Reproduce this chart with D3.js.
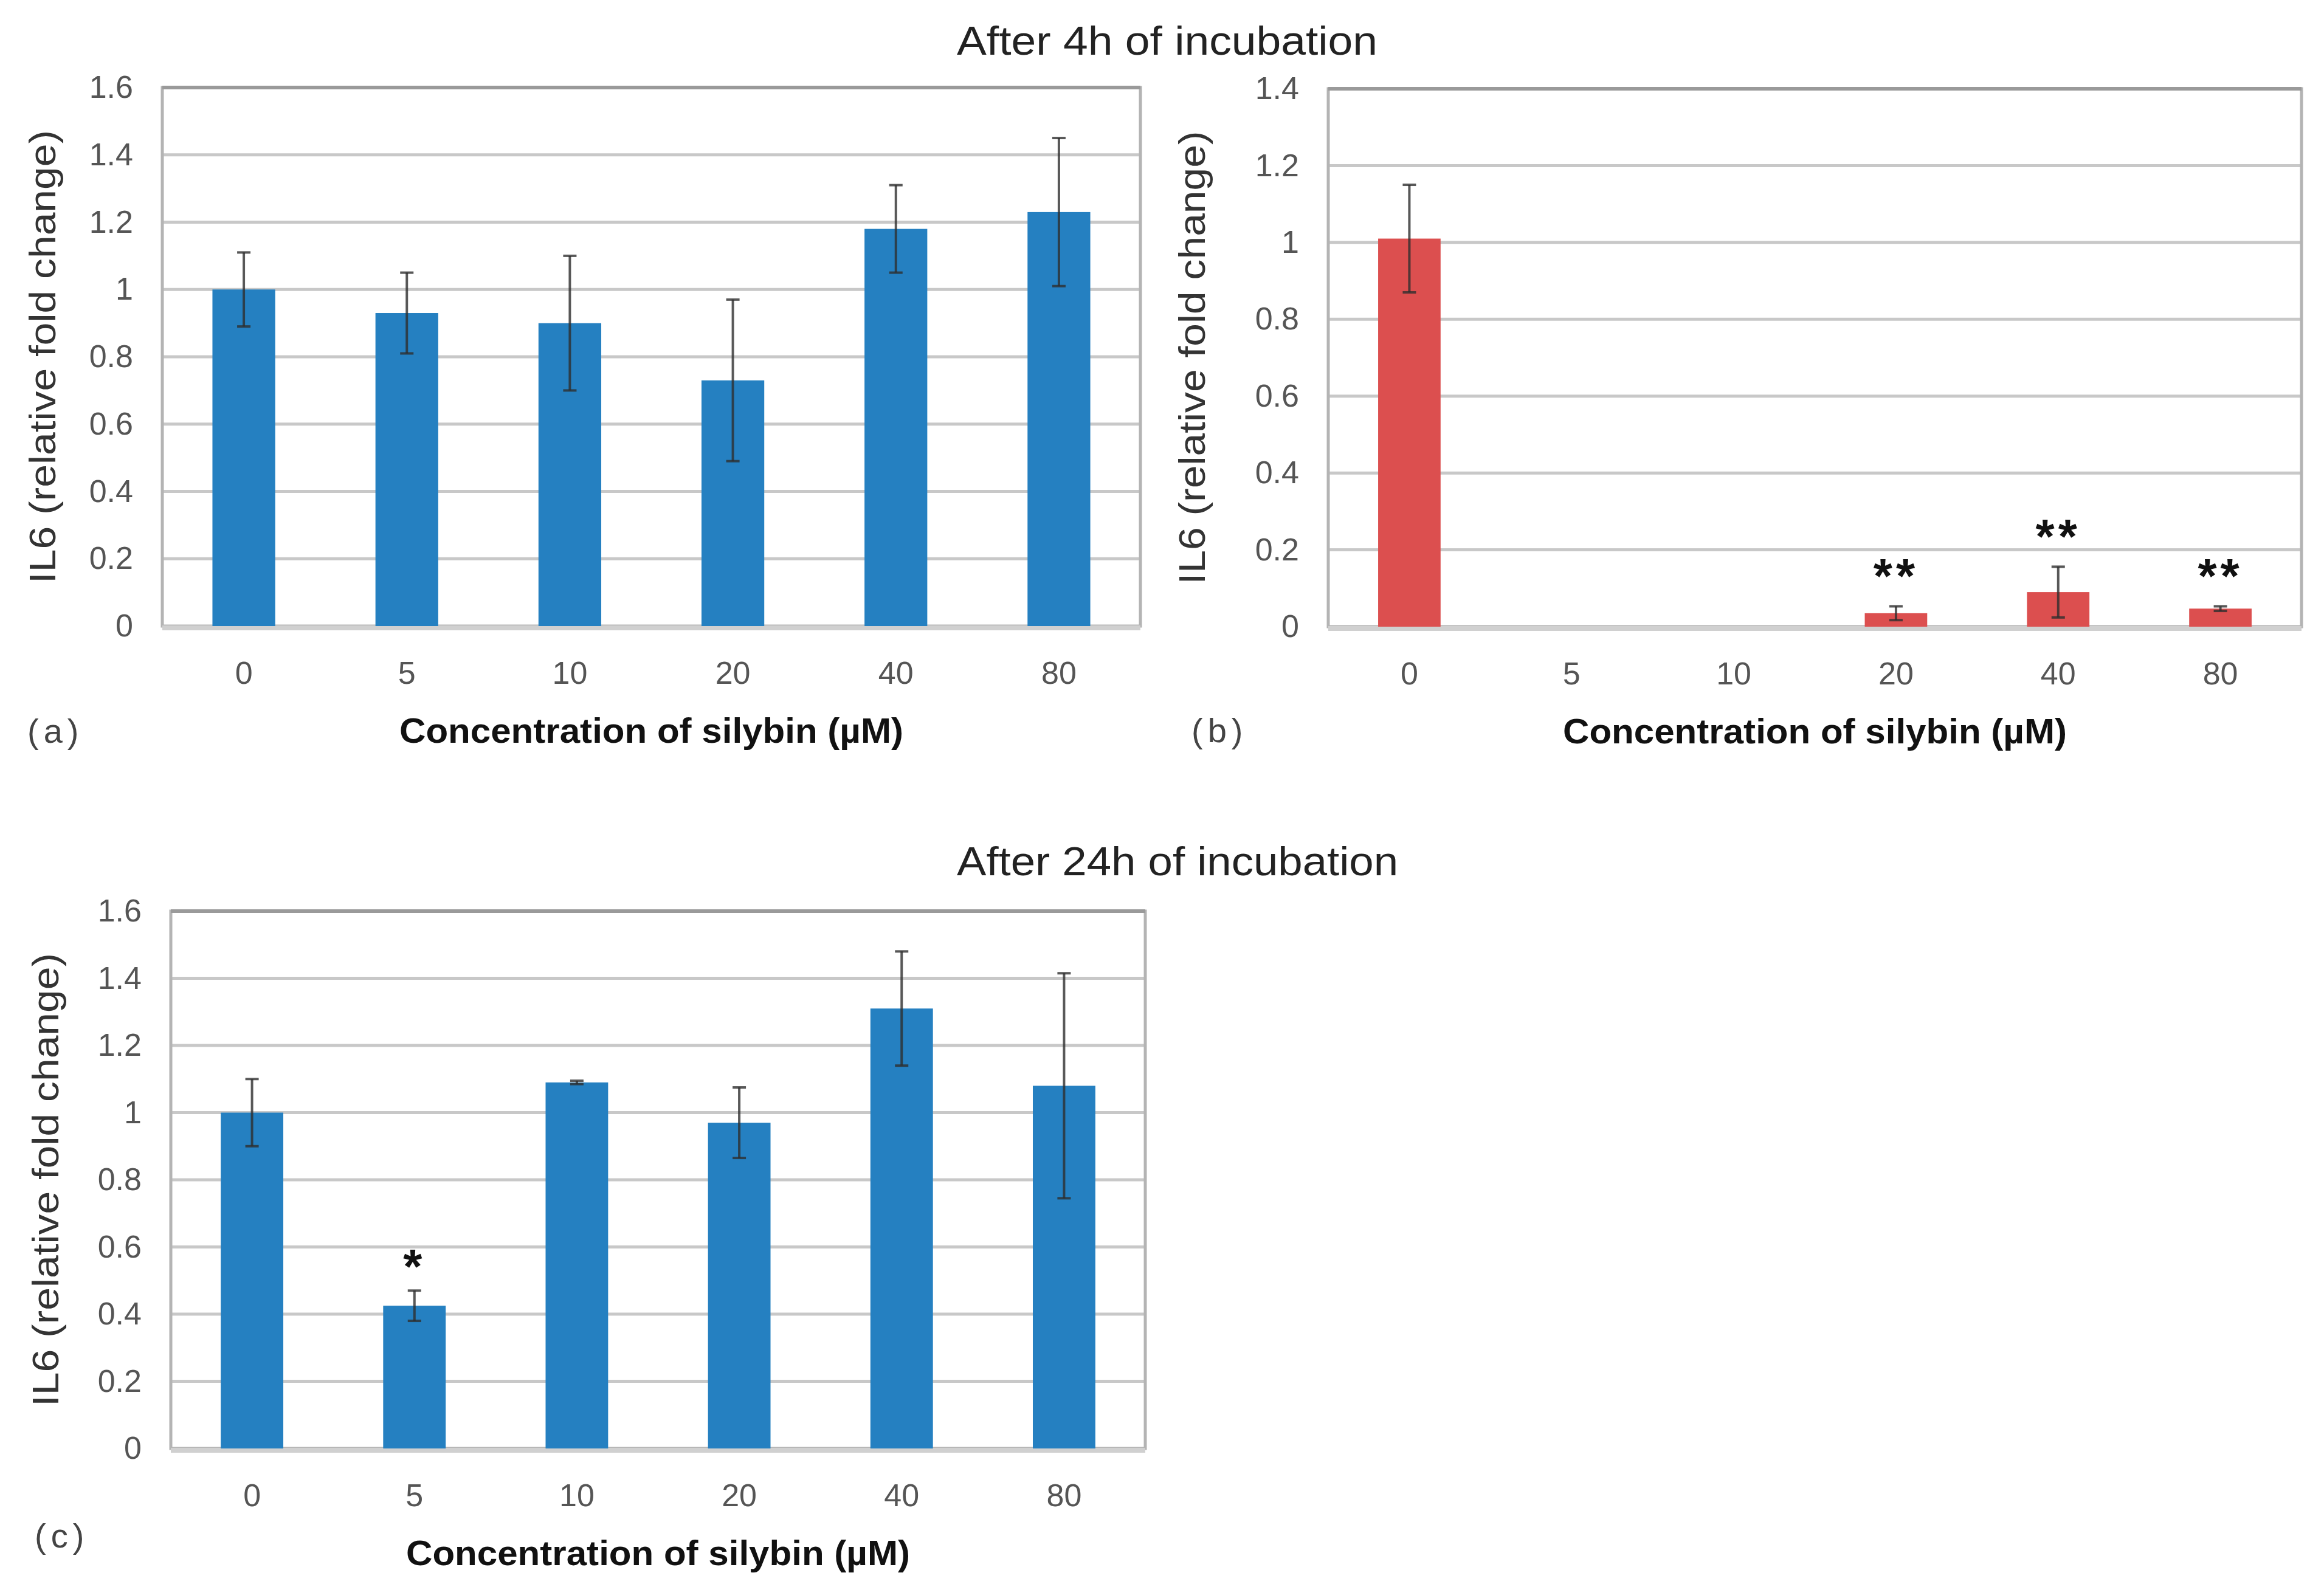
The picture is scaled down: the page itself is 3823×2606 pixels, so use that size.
<!DOCTYPE html>
<html>
<head>
<meta charset="utf-8">
<script src="https://cdn.jsdelivr.net/npm/d3@7/dist/d3.min.js"></script>
<style>
  body { margin: 0; background: #fff; }
  text { font-family: "Liberation Sans", Arial, sans-serif; }
</style>
</head>
<body>
<svg id="fig" width="3823" height="2606"></svg>
<script>
// silybin concentrations (µM)
var categories = ["0", "5", "10", "20", "40", "80"];

// (a) 4h, blue
var il6_4h_a  = [1.00, 0.93, 0.90, 0.73, 1.18, 1.23];
var err_4h_a  = [0.11, 0.12, 0.20, 0.24, 0.13, 0.22];

// (b) 4h, red
var il6_4h_b  = [1.01, 0, 0, 0.035, 0.09, 0.047];
var err_4h_b  = [0.14, 0, 0, 0.018, 0.066, 0.006];
var sig_4h_b  = ["", "", "", "**", "**", "**"];

// (c) 24h, blue
var il6_24h_c = [1.00, 0.425, 1.09, 0.97, 1.31, 1.08];
var err_24h_c = [0.10, 0.045, 0.005, 0.105, 0.17, 0.335];
var sig_24h_c = ["", "*", "", "", "", ""];

var ticks16 = [0, 0.2, 0.4, 0.6, 0.8, 1, 1.2, 1.4, 1.6];
var ticks14 = [0, 0.2, 0.4, 0.6, 0.8, 1, 1.2, 1.4];

var titles = ["After 4h of incubation", "After 24h of incubation"];
var xTitle = "Concentration of silybin (\u00b5M)";
var yTitle = "IL6 (relative fold change)";

var svg = d3.select("#fig");

function barPanel(p) {
  var x = d3.scaleBand().domain(categories).range([p.left, p.right]);
  var y = d3.scaleLinear().domain([0, d3.max(p.ticks)]).range([p.bottom, p.top]);
  var bw = x.bandwidth() * 0.385;

  var rows = categories.map(function(c, i) {
    return {c: c, v: p.values[i], e: p.errors[i], s: p.sig ? p.sig[i] : ""};
  });

  var g = svg.append("g");

  // gridlines
  g.selectAll(".grid")
      .data(p.ticks.slice(1, -1))
    .enter().append("line")
      .attr("x1", p.left).attr("x2", p.right)
      .attr("y1", function(d) { return y(d); })
      .attr("y2", function(d) { return y(d); })
      .attr("stroke", "#c8c8c8")
      .attr("stroke-width", 5);

  // frame
  g.append("rect")
      .attr("x", p.left).attr("y", p.top)
      .attr("width", p.right - p.left).attr("height", p.bottom - p.top)
      .attr("fill", "none")
      .attr("stroke", "#b4b4b4")
      .attr("stroke-width", 5);
  g.append("line")
      .attr("x1", p.left).attr("x2", p.right)
      .attr("y1", p.top).attr("y2", p.top)
      .attr("stroke", "#9a9a9a")
      .attr("stroke-width", 6);
  g.append("line")
      .attr("x1", p.left).attr("x2", p.right)
      .attr("y1", y(0) + 3).attr("y2", y(0) + 3)
      .attr("stroke", "#d0d0d0")
      .attr("stroke-width", 8);

  // bars
  g.selectAll(".bar")
      .data(rows.filter(function(d) { return d.v > 0; }))
    .enter().append("rect")
      .attr("class", "bar")
      .attr("x", function(d) { return x(d.c) + (x.bandwidth() - bw) / 2; })
      .attr("y", function(d) { return y(d.v); })
      .attr("width", bw)
      .attr("height", function(d) { return y(0) - y(d.v); })
      .attr("fill", p.color);

  // error bars
  var eb = g.selectAll(".err")
      .data(rows.filter(function(d) { return d.e > 0; }))
    .enter().append("g")
      .attr("transform", function(d) { return "translate(" + (x(d.c) + x.bandwidth() / 2) + ",0)"; })
      .attr("stroke", "#2e2e2e")
      .attr("stroke-opacity", 0.8)
      .attr("stroke-width", 4);
  eb.append("line")
      .attr("y1", function(d) { return y(d.v - d.e); })
      .attr("y2", function(d) { return y(d.v + d.e); });
  eb.append("line")
      .attr("x1", -11).attr("x2", 11)
      .attr("y1", function(d) { return y(d.v + d.e); })
      .attr("y2", function(d) { return y(d.v + d.e); });
  eb.append("line")
      .attr("x1", -11).attr("x2", 11)
      .attr("y1", function(d) { return y(d.v - d.e); })
      .attr("y2", function(d) { return y(d.v - d.e); });

  // significance stars
  g.selectAll(".sig")
      .data(rows.filter(function(d) { return d.s; }))
    .enter().append("text")
      .attr("x", function(d) { return x(d.c) + x.bandwidth() / 2; })
      .attr("y", function(d) { return y(d.v + d.e) - p.starGap; })
      .attr("text-anchor", "middle")
      .attr("font-size", 80)
      .attr("font-weight", "bold")
      .attr("letter-spacing", 6)
      .attr("fill", "#111")
      .text(function(d) { return d.s; });

  // axes (labels only)
  var yAxis = d3.axisLeft(y).tickValues(p.ticks).tickSize(0).tickPadding(48)
      .tickFormat(d3.format("~g"));
  var ya = g.append("g").attr("transform", "translate(" + p.left + ",0)").call(yAxis);
  ya.select(".domain").remove();
  ya.selectAll("text").attr("font-size", 52).attr("fill", "#555")
      .attr("font-family", "Liberation Sans, Arial, sans-serif");

  var xAxis = d3.axisBottom(x).tickSize(0).tickPadding(58);
  var xa = g.append("g").attr("transform", "translate(0," + p.bottom + ")").call(xAxis);
  xa.select(".domain").remove();
  xa.selectAll("text").attr("font-size", 52).attr("fill", "#555")
      .attr("font-family", "Liberation Sans, Arial, sans-serif");

  // axis titles
  var cx = (p.left + p.right) / 2 + p.xTitleShift;
  g.append("text")
      .attr("x", cx).attr("y", p.bottom + 192)
      .attr("text-anchor", "middle")
      .attr("font-size", 58)
      .attr("font-weight", "bold")
      .attr("fill", "#111")
      .attr("textLength", 829).attr("lengthAdjust", "spacingAndGlyphs")
      .text(xTitle);

  var cy = (p.top + p.bottom) / 2;
  g.append("text")
      .attr("transform", "translate(" + (p.left - p.yTitleGap) + "," + cy + ") rotate(-90)")
      .attr("text-anchor", "middle")
      .attr("font-size", 62)
      .attr("fill", "#333")
      .attr("textLength", 746).attr("lengthAdjust", "spacingAndGlyphs")
      .text(yTitle);

  // panel letter
  g.append("text")
      .attr("x", p.labelX).attr("y", p.bottom + p.labelDy)
      .attr("font-size", 56)
      .attr("fill", "#444")
      .attr("letter-spacing", 8)
      .text(p.label);
}

barPanel({left: 267, right: 1876, top: 144, bottom: 1030, ticks: ticks16,
          values: il6_4h_a, errors: err_4h_a, color: "#2580c1",
          xTitleShift: 0, yTitleGap: 176, label: "(a)", labelX: 45, labelDy: 192, starGap: 24});

barPanel({left: 2185, right: 3786, top: 146, bottom: 1031, ticks: ticks14,
          values: il6_4h_b, errors: err_4h_b, sig: sig_4h_b, color: "#dc4f4f",
          xTitleShift: 0, yTitleGap: 203, label: "(b)", labelX: 1960, labelDy: 190, starGap: 22});

barPanel({left: 281, right: 1884, top: 1499, bottom: 2383, ticks: ticks16,
          values: il6_24h_c, errors: err_24h_c, sig: sig_24h_c, color: "#2580c1",
          xTitleShift: 0, yTitleGap: 185, label: "(c)", labelX: 57, labelDy: 163, starGap: 12});

// figure titles
svg.append("text")
    .attr("x", 1920).attr("y", 90)
    .attr("text-anchor", "middle")
    .attr("font-size", 66)
    .attr("fill", "#222")
    .attr("textLength", 692).attr("lengthAdjust", "spacingAndGlyphs")
    .text(titles[0]);

svg.append("text")
    .attr("x", 1937).attr("y", 1440)
    .attr("text-anchor", "middle")
    .attr("font-size", 66)
    .attr("fill", "#222")
    .attr("textLength", 726).attr("lengthAdjust", "spacingAndGlyphs")
    .text(titles[1]);
</script>
</body>
</html>
